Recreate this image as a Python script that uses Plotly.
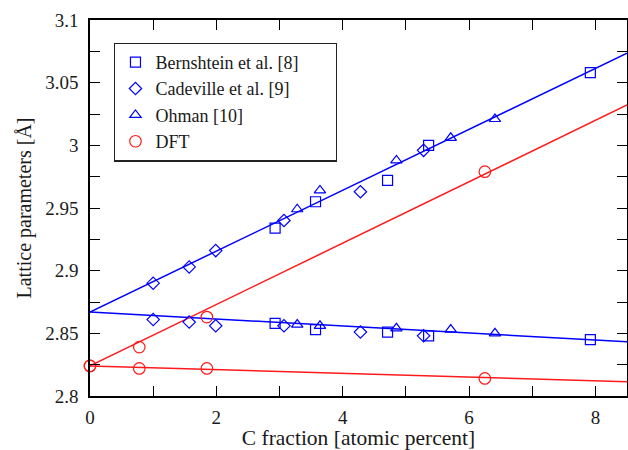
import plotly.graph_objects as go

# Data
bern_x = [2.93, 3.57, 4.71, 5.36, 7.92]
bern_up = [2.934, 2.955, 2.972, 3.000, 3.058]
bern_lo = [2.858, 2.853, 2.851, 2.848, 2.845]

cad_x = [1.00, 1.57, 1.99, 3.07, 4.28, 5.28]
cad_up = [2.890, 2.903, 2.916, 2.940, 2.963, 2.996]
cad_lo = [2.861, 2.859, 2.856, 2.856, 2.851, 2.848]

ohm_x = [3.28, 3.64, 4.85, 5.71, 6.41]
ohm_up = [2.949, 2.964, 2.988, 3.006, 3.021]
ohm_lo = [2.857, 2.856, 2.854, 2.853, 2.850]

dft_x_up = [0.0, 0.78, 1.85, 6.25]
dft_up = [2.824, 2.839, 2.863, 2.979]
dft_x_lo = [0.0, 0.78, 1.85, 6.25]
dft_lo = [2.824, 2.822, 2.822, 2.814]

# Fit lines (end values at x=0 and x=8.5)
fit_x = [0.0, 8.5]
exp_up_fit = [2.867, 3.0735]
exp_lo_fit = [2.867, 2.8433]
dft_up_fit = [2.824, 3.0322]
dft_lo_fit = [2.824, 2.8114]

series_names = ["Bernshtein et al. [8]", "Cadeville et al. [9]", "Ohman [10]", "DFT"]

BLUE = "#0000ff"
RED = "#ff1a1a"
FONT = "Liberation Serif"
TXT = "#1a1a1a"
PAD = "\u00a0" * 7  # widens the legend box like the reference

fig = go.Figure()

for ys, c in [(exp_up_fit, BLUE), (exp_lo_fit, BLUE), (dft_up_fit, RED), (dft_lo_fit, RED)]:
    fig.add_trace(go.Scatter(x=fit_x, y=ys, mode="lines", line=dict(color=c, width=1.5),
                             showlegend=False, hoverinfo="skip"))

def pts(name, xs, ys, sym, color, size, legend=True, label=None):
    fig.add_trace(go.Scatter(x=xs, y=ys, mode="markers", name=label or name, showlegend=legend,
                             legendgroup=name, cliponaxis=False,
                             marker=dict(symbol=sym, size=size, color=color,
                                         line=dict(color=color, width=1.2))))

pts(series_names[0], bern_x, bern_up, "square-open", BLUE, 10, label=series_names[0] + PAD)
pts(series_names[0], bern_x, bern_lo, "square-open", BLUE, 10, False)
pts(series_names[1], cad_x, cad_up, "diamond-open", BLUE, 9.5)
pts(series_names[1], cad_x, cad_lo, "diamond-open", BLUE, 9.5, False)
pts(series_names[2], ohm_x, ohm_up, "triangle-up-open", BLUE, 10)
pts(series_names[2], ohm_x, ohm_lo, "triangle-up-open", BLUE, 10, False)
pts(series_names[3], dft_x_up, dft_up, "circle-open", RED, 11.5)
pts(series_names[3], dft_x_lo, dft_lo, "circle-open", RED, 11.5, False)

axis_common = dict(showline=True, linecolor="black", linewidth=1.5, mirror="ticks",
                   ticks="inside", ticklen=10, tickwidth=1.3, tickcolor="black",
                   showgrid=False, zeroline=False, automargin=False,
                   tickfont=dict(family=FONT, size=19, color=TXT))

fig.update_xaxes(range=[0, 8.5], dtick=2, tick0=0, ticklabelstandoff=3,
                 minor=dict(dtick=1, ticks="inside", ticklen=10, tickwidth=1.3, tickcolor="black"),
                 title=dict(text="C fraction [atomic percent]", font=dict(family=FONT, size=21.5, color=TXT),
                            standoff=5),
                 **axis_common)
fig.update_yaxes(range=[2.8, 3.1], dtick=0.05, tick0=2.8, ticklabelstandoff=6,
                 minor=dict(dtick=0.025, ticks="inside", ticklen=10, tickwidth=1.3, tickcolor="black"),
                 title=dict(text="Lattice parameters [Å]", font=dict(family=FONT, size=20, color=TXT),
                            standoff=8),
                 **axis_common)

fig.update_layout(
    width=628, height=450,
    margin=dict(l=90, r=1, t=20, b=54),
    plot_bgcolor="white", paper_bgcolor="white",
    legend=dict(x=0.045, y=0.94, xanchor="left", yanchor="top",
                bordercolor="#222", borderwidth=1.3, bgcolor="white",
                font=dict(family=FONT, size=18, color=TXT),
                tracegroupgap=0),
)

fig.write_html("out.html", config={"displayModeBar": False},
               post_script="document.body.style.margin='0';")
